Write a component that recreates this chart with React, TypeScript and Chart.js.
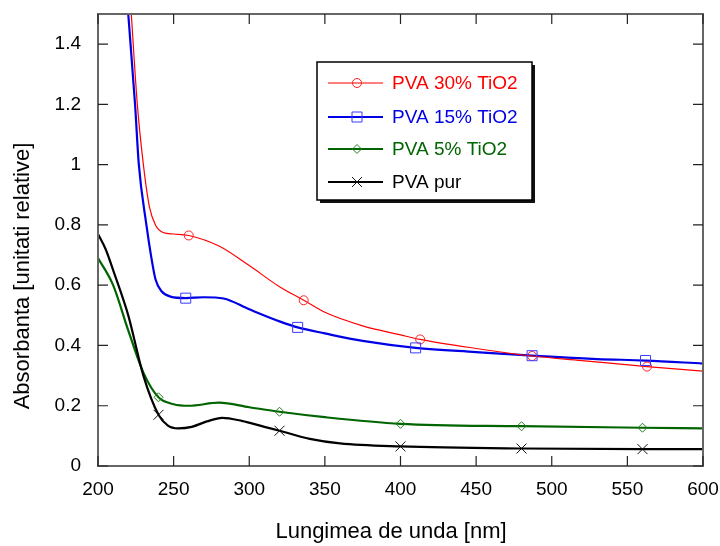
import React, { useEffect, useRef } from "react";
import { Chart, registerables } from "chart.js";

Chart.register(...registerables);

const xTicks = [200, 250, 300, 350, 400, 450, 500, 550, 600];
const yTicks = [0, 0.2, 0.4, 0.6, 0.8, 1, 1.2, 1.4];
const xTitle = "Lungimea de unda [nm]";
const yTitle = "Absorbanta [unitati relative]";

// PVA 30% TiO2
const redX = [216, 222, 226, 230, 234, 238, 243, 250, 260, 280, 300, 320, 336, 350, 375, 400, 413, 450, 487, 520, 563, 600];
const redY = [1.95, 1.5, 1.2, 1.0, 0.86, 0.8, 0.775, 0.77, 0.765, 0.73, 0.665, 0.595, 0.55, 0.51, 0.465, 0.435, 0.42, 0.39, 0.365, 0.35, 0.33, 0.315];
const redMX = [260, 336, 413, 487, 563];
const redMY = [0.765, 0.55, 0.42, 0.365, 0.33];

// PVA 15% TiO2
const blueX = [214, 220, 224.5, 227, 232, 235, 238, 242, 248, 258, 270, 283, 300, 320, 332, 350, 375, 410, 450, 487, 530, 562, 600];
const blueY = [1.95, 1.5, 1.2, 1.0, 0.8, 0.7, 0.62, 0.58, 0.562, 0.557, 0.56, 0.556, 0.52, 0.48, 0.46, 0.44, 0.415, 0.392, 0.378, 0.366, 0.355, 0.35, 0.34];
const blueMX = [258, 332, 410, 487, 562];
const blueMY = [0.557, 0.46, 0.392, 0.366, 0.35];

// PVA 5% TiO2
const greenX = [200, 210, 220, 230, 240, 250, 260, 280, 300, 320, 350, 400, 480, 560, 600];
const greenY = [0.69, 0.6, 0.45, 0.31, 0.228, 0.205, 0.2, 0.21, 0.195, 0.18, 0.162, 0.14, 0.132, 0.127, 0.125];
const greenMX = [240, 320, 400, 480, 560];
const greenMY = [0.228, 0.18, 0.14, 0.132, 0.127];

// PVA pur
const blackX = [200, 205, 210, 220, 230, 240, 246, 253, 262, 272, 282, 295, 310, 320, 340, 360, 400, 480, 560, 600];
const blackY = [0.77, 0.72, 0.65, 0.5, 0.3, 0.17, 0.135, 0.125, 0.13, 0.148, 0.16, 0.15, 0.13, 0.117, 0.09, 0.075, 0.065, 0.058, 0.056, 0.056];
const blackMX = [240, 320, 400, 480, 560];
const blackMY = [0.17, 0.117, 0.065, 0.058, 0.056];

const seriesNames = ["PVA 30% TiO2", "PVA 15% TiO2", "PVA 5% TiO2", "PVA pur"];
const seriesColors = ["#ff0000", "#0000e6", "#006400", "#000000"];
const markerColors = ["#ff2020", "#3a3aff", "#208020", "#111111"];
const seriesStyles = ["circle", "rect", "rectRot", "cross"];
const lineWidths = [1.2, 2.2, 2.2, 2.2];

const zip = (xs: number[], ys: number[]) => xs.map((x, i) => ({ x, y: ys[i] }));

const FONT = "'Liberation Sans', Arial, sans-serif";

const drawMarker = (ctx: CanvasRenderingContext2D, style: string, x: number, y: number, color: string) => {
  ctx.save();
  ctx.strokeStyle = color;
  ctx.lineWidth = 1;
  ctx.beginPath();
  if (style === "circle") {
    ctx.arc(x, y, 4.5, 0, Math.PI * 2);
  } else if (style === "rect") {
    ctx.rect(x - 5, y - 5, 10, 10);
  } else if (style === "rectRot") {
    ctx.moveTo(x, y - 4.5);
    ctx.lineTo(x + 4.5, y);
    ctx.lineTo(x, y + 4.5);
    ctx.lineTo(x - 4.5, y);
    ctx.closePath();
  } else {
    ctx.moveTo(x - 5, y - 5);
    ctx.lineTo(x + 5, y + 5);
    ctx.moveTo(x + 5, y - 5);
    ctx.lineTo(x - 5, y + 5);
  }
  ctx.stroke();
  ctx.restore();
};

const framePlugin = {
  id: "frameTicks",
  afterDraw(chart: any) {
    const { ctx, chartArea: a, scales } = chart;
    ctx.save();
    ctx.strokeStyle = "#666666";
    ctx.lineWidth = 2;
    ctx.strokeRect(a.left, a.top, a.right - a.left, a.bottom - a.top);
    ctx.strokeStyle = "#222222";
    ctx.lineWidth = 1.2;
    ctx.beginPath();
    xTicks.forEach((v) => {
      const px = scales.x.getPixelForValue(v);
      ctx.moveTo(px, a.bottom);
      ctx.lineTo(px, a.bottom - 10);
      ctx.moveTo(px, a.top);
      ctx.lineTo(px, a.top + 10);
    });
    yTicks.forEach((v) => {
      const py = scales.y.getPixelForValue(v);
      ctx.moveTo(a.left, py);
      ctx.lineTo(a.left + 10, py);
      ctx.moveTo(a.right, py);
      ctx.lineTo(a.right - 10, py);
    });
    ctx.stroke();

    // axis titles
    ctx.fillStyle = "#000000";
    ctx.font = `22px ${FONT}`;
    ctx.textAlign = "center";
    ctx.textBaseline = "middle";
    ctx.fillText(xTitle, 391, 532);
    ctx.save();
    ctx.translate(23, 276);
    ctx.rotate(-Math.PI / 2);
    ctx.fillText(yTitle, 0, 0);
    ctx.restore();

    // legend box
    const bx = 317, by = 62, bw = 215, bh = 138;
    ctx.fillStyle = "#111111";
    ctx.fillRect(bx + 3, by + 3, bw, bh);
    ctx.fillStyle = "#ffffff";
    ctx.fillRect(bx, by, bw, bh);
    ctx.strokeStyle = "#000000";
    ctx.lineWidth = 1.5;
    ctx.strokeRect(bx, by, bw, bh);
    const rows = [83, 117, 149, 182];
    ctx.font = `19px ${FONT}`;
    ctx.textBaseline = "middle";
    ctx.textAlign = "left";
    rows.forEach((ry, i) => {
      ctx.strokeStyle = seriesColors[i];
      ctx.lineWidth = lineWidths[i];
      ctx.beginPath();
      ctx.moveTo(328, ry);
      ctx.lineTo(383, ry);
      ctx.stroke();
      drawMarker(ctx, seriesStyles[i], 357, ry, markerColors[i]);
      ctx.fillStyle = seriesColors[i];
      ctx.fillText(seriesNames[i], 392, ry + 1);
    });
    ctx.restore();
  },
};

const markerPlugin = {
  id: "markers",
  afterDatasetsDraw(chart: any) {
    const { ctx, scales } = chart;
    const sets = [
      [redMX, redMY],
      [blueMX, blueMY],
      [greenMX, greenMY],
      [blackMX, blackMY],
    ];
    sets.forEach(([mx, my], i) => {
      mx.forEach((x, j) => {
        drawMarker(ctx, seriesStyles[i], scales.x.getPixelForValue(x), scales.y.getPixelForValue(my[j]), markerColors[i]);
      });
    });
  },
};

export default function App() {
  const ref = useRef<HTMLCanvasElement>(null);
  useEffect(() => {
    document.body.style.margin = "0";
    const lineDs = (xs: number[], ys: number[], i: number) => ({
      label: seriesNames[i],
      data: zip(xs, ys),
      borderColor: seriesColors[i],
      backgroundColor: seriesColors[i],
      borderWidth: lineWidths[i],
      pointRadius: 0,
      cubicInterpolationMode: "monotone" as const,
      fill: false,
    });
    const chart = new Chart(ref.current!, {
      type: "line",
      data: {
        datasets: [
          lineDs(blackX, blackY, 3),
          lineDs(greenX, greenY, 2),
          lineDs(redX, redY, 0),
          lineDs(blueX, blueY, 1),
        ],
      },
      options: {
        animation: false,
        responsive: false,
        layout: { padding: 0 },
        plugins: { legend: { display: false }, tooltip: { enabled: false } },
        scales: {
          x: {
            type: "linear",
            min: 200,
            max: 600,
            afterBuildTicks: (s: any) => {
              s.ticks = xTicks.map((v) => ({ value: v }));
            },
            afterFit: (s: any) => {
              s.height = 80;
              s.paddingRight = 17;
              s.paddingLeft = 0;
            },
            grid: { display: false },
            border: { display: false },
            ticks: { color: "#000", font: { family: FONT, size: 19 }, padding: 4, maxRotation: 0 },
          },
          y: {
            type: "linear",
            min: 0,
            max: 1.5,
            afterBuildTicks: (s: any) => {
              s.ticks = yTicks.map((v) => ({ value: v }));
            },
            afterFit: (s: any) => {
              s.width = 98;
              s.paddingTop = 14;
              s.paddingBottom = 0;
            },
            grid: { display: false },
            border: { display: false },
            ticks: {
              color: "#000",
              font: { family: FONT, size: 19 },
              padding: 9,
              callback: (v: any) => String(v),
            },
          },
        },
      },
      plugins: [markerPlugin, framePlugin],
    });
    return () => chart.destroy();
  }, []);
  return (
    <div style={{ position: "absolute", left: 0, top: 0, width: 720, height: 546, background: "#fff" }}>
      <canvas ref={ref} width={720} height={546} />
    </div>
  );
}
